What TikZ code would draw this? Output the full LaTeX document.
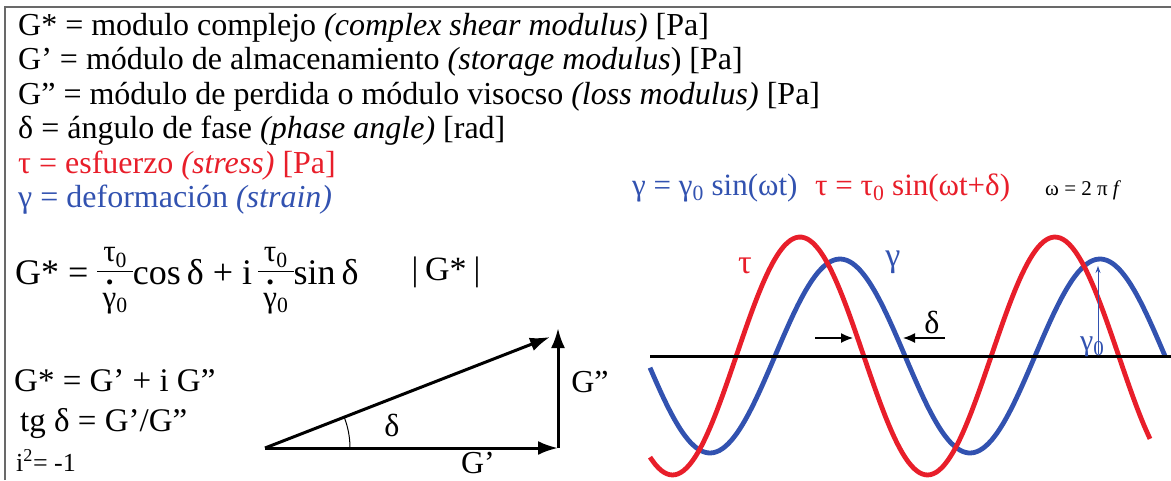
\documentclass[tikz,border=0pt]{standalone}
\usepackage{fontspec}
\setmainfont{Liberation Serif}
\usetikzlibrary{arrows.meta,calc}
\definecolor{tauRed}{RGB}{232,30,42}
\definecolor{gammaBlue}{RGB}{50,82,176}
\definecolor{frameGray}{RGB}{105,105,105}
\newcommand{\gdot}{\makebox[0pt][l]{\hspace{0.1em}\raisebox{0.72em}{\textbf{.}}}γ}
\newcommand{\tgfrac}{{\fontsize{31}{32}\selectfont\begin{tabular}{@{\,}c@{\,}}τ\textsubscript{0}\\\hline\rule{0pt}{1.15em}\gdot\textsubscript{0}\end{tabular}}}

\begin{document}
\begin{tikzpicture}[x=1pt,y=-1pt]

    \tikzset{
      body/.style={anchor=base west,inner sep=0pt,font=\fontsize{32}{34}\selectfont},
      lower/.style={anchor=base west,inner sep=0pt,font=\fontsize{33}{36}\selectfont},
      lbl/.style={anchor=center,inner sep=0pt,font=\fontsize{32}{34}\selectfont},
      vec/.style={line width=3pt,-{Latex[length=20pt,width=14pt]}},
      gap/.style={line width=1.3pt,-{Latex[length=12pt,width=10pt]}},
      wave/.style={line width=4.8pt,smooth,line join=round},
    }
    \useasboundingbox (0,0) rectangle (1171,480);
    \draw[frameGray,line width=2pt] (5,480) -- (5,7) -- (1171,7);

	\node[body] (lGs) at (18,35) {G* = modulo complejo \textit{(complex shear modulus)} [Pa]};
	\node[body] (lGp) at (18,69) {G’ = módulo de almacenamiento \textit{(storage modulus}) [Pa]};
	\node[body] (lGpp) at (18,104) {G” = módulo de perdida o módulo visocso \textit{(loss modulus)} [Pa]};
	\node[body] (ldelta) at (18,138) {δ = ángulo de fase \textit{(phase angle)} [rad]};
	\node[body,text=tauRed] (ltau) at (18,173) {τ = esfuerzo \textit{(stress)} [Pa]};
	\node[body,text=gammaBlue] (lgamma) at (18,207) {γ = deformación \textit{(strain)}};

	\node[body,font=\fontsize{36}{38}\selectfont] (eqG) at (15,284) {G* = \tgfrac cos\,δ + i\,\tgfrac sin\,δ};
	\node[lower] (eqsum) at (14,391) {G* = G’ + i G”};
	\node[lower] (eqtg) at (20,431) {tg δ = G’/G”};
	\node[lower,font=\fontsize{26}{28}\selectfont] (eqi) at (16,471) {i\textsuperscript{2}= -1};

	% phasor triangle
	\coordinate (O) at (265,448);
	\coordinate (Gp) at (558,448);
	\coordinate (Gtop) at (558,328);
	\coordinate (Gs) at (550,337);
	\draw[vec] (O) -- (Gp);
	\draw[vec] (Gp) -- (Gtop);
	\draw[vec] (O) -- (Gs);
	\draw[line width=1pt] ($(O)+(85,0)$) arc[start angle=0,end angle=-21,radius=85];
	\node[lbl,font=\fontsize{34}{36}\selectfont] (lblGs) at (446,272) {|\hspace{0.2em}G*\hspace{0.2em}|};
	\node[lbl] (lblDelta) at (392,425) {δ};
	\node[lbl,anchor=base] (lblGp) at (478,473) {G’};
	\node[lbl] (lblGpp) at (590,382) {G”};

	% waves
	\node[body,font=\fontsize{31}{32}\selectfont,text=gammaBlue] (eqgam) at (632,195) {γ = γ\textsubscript{0} sin(ωt)};
	\node[body,font=\fontsize{31}{32}\selectfont,text=tauRed] (eqtau) at (815,195) {τ = τ\textsubscript{0} sin(ωt+δ)};
	\node[body,font=\fontsize{21}{22}\selectfont] (eqw) at (1045,195) {ω = 2 π \textit{f}};
	\draw[gammaBlue,wave] plot[domain=650:1165,samples=90] (\x,{356-97*cos((\x-840)/260*360)});
	\draw[tauRed,wave] plot[domain=650:1150,samples=90] (\x,{356-119*cos((\x-800)/255*360)});
	\coordinate (axL) at (650,356);
	\coordinate (axR) at (1171,356);
	\draw[line width=3pt] (axL) -- (axR);
	\coordinate (dL0) at (815,338);
	\coordinate (dL1) at (853,338);
	\coordinate (dR0) at (945,338);
	\coordinate (dR1) at (903,338);
	\draw[gap] (dL0) -- (dL1);
	\draw[gap] (dR0) -- (dR1);
	\node[lbl] (lblPhase) at (932,322) {δ};
	\node[lbl,text=tauRed,font=\fontsize{34}{36}\selectfont] (lblTau) at (745,266) {τ};
	\node[lbl,text=gammaBlue,font=\fontsize{34}{36}\selectfont] (lblGam) at (893,262) {γ};
	\coordinate (g0b) at (1098,354);
	\coordinate (g0t) at (1098,266);
	\draw[gammaBlue,line width=1pt,-{Stealth[length=7pt,width=5pt]}] (g0b) -- (g0t);
	\node[body,font=\fontsize{30}{32}\selectfont,text=gammaBlue] (lblG0) at (1080,350) {γ\textsubscript{0}};

\end{tikzpicture}
\end{document}
